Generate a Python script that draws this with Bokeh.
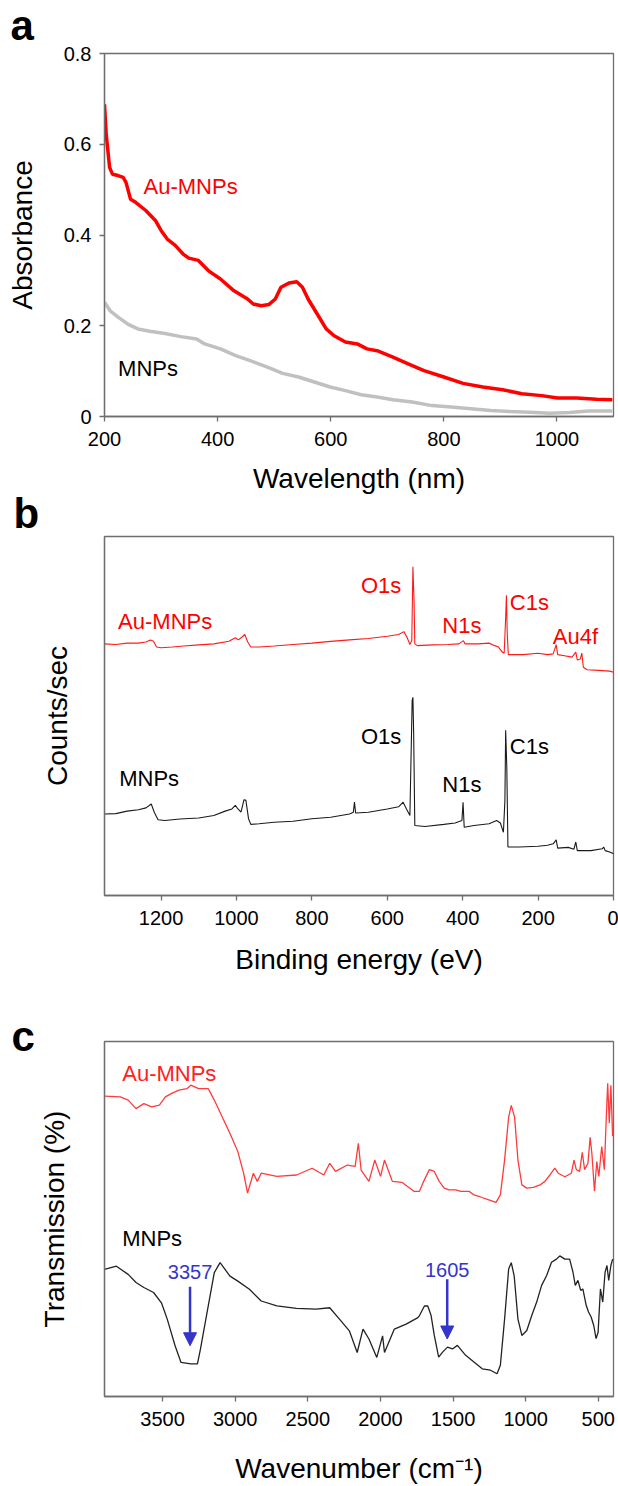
from bokeh.plotting import figure
from bokeh.layouts import column
from bokeh.models import Range1d, Arrow, NormalHead, FixedTicker
from bokeh.core.properties import value
from bokeh.embed import file_html
from bokeh.resources import INLINE

FONT = "Liberation Sans"

# ---------------- Panel a : UV-vis ----------------
a_wl_au = [200, 203, 209, 214, 224, 233, 238, 246, 255, 273, 290, 300, 311, 325, 339, 349, 366, 384,
           405, 429, 453, 463, 477, 491, 502, 512, 526, 540, 550, 560, 578, 592, 606, 626, 647, 664,
           682, 710, 737, 765, 800, 834, 869, 904, 938, 973, 1001, 1035, 1070, 1098]
a_abs_au = [0.688, 0.622, 0.549, 0.534, 0.531, 0.527, 0.516, 0.479, 0.472, 0.454, 0.432, 0.410, 0.391,
            0.377, 0.358, 0.349, 0.344, 0.321, 0.303, 0.277, 0.259, 0.248, 0.244, 0.247, 0.259, 0.285,
            0.294, 0.297, 0.285, 0.259, 0.222, 0.193, 0.178, 0.164, 0.160, 0.149, 0.145, 0.131, 0.116,
            0.101, 0.087, 0.073, 0.065, 0.059, 0.050, 0.046, 0.041, 0.041, 0.038, 0.037]
a_wl_m = [200, 210, 224, 242, 259, 280, 307, 335, 363, 377, 405, 432, 460, 488, 515, 543, 571, 599,
          626, 654, 682, 710, 744, 779, 813, 848, 883, 918, 952, 987, 1022, 1056, 1098]
a_abs_m = [0.252, 0.233, 0.219, 0.203, 0.193, 0.188, 0.183, 0.176, 0.171, 0.160, 0.149, 0.134, 0.122,
           0.109, 0.095, 0.087, 0.076, 0.065, 0.057, 0.048, 0.043, 0.037, 0.032, 0.024, 0.021, 0.017,
           0.013, 0.011, 0.0095, 0.007, 0.009, 0.012, 0.012]
a_xticks = [200, 400, 600, 800, 1000]
a_yticks = [0, 0.2, 0.4, 0.6, 0.8]
a_ylabels = ["0", "0.2", "0.4", "0.6", "0.8"]

# ---------------- Panel b : XPS ----------------
b_ev_au = [1350, 1320, 1290, 1260, 1240, 1228, 1220, 1212, 1200, 1170, 1140, 1100, 1060, 1020, 1003,
           995, 985, 978, 970, 962, 940, 900, 850, 800, 750, 700, 650, 600, 570, 556, 548, 540, 535,
           532, 529, 527, 520, 480, 440, 410, 398, 394, 360, 330, 315, 305, 295, 290, 286, 284, 282,
           279, 270, 240, 200, 175, 160, 152, 148, 130, 110, 100, 96, 88, 84, 80, 70, 40, 10, 0]
b_cnt_au = [70.1, 69.9, 70.3, 70.3, 70.6, 71.2, 70.8, 69.2, 69.0, 69.2, 69.5, 69.8, 70.1, 70.8, 71.8,
            71.2, 72.0, 72.7, 70.6, 69.2, 69.2, 69.5, 69.9, 70.3, 70.8, 71.2, 71.6, 72.2, 72.7, 73.5,
            72.0, 69.9, 71.0, 91.6, 82.2, 70.1, 69.6, 69.8, 69.9, 70.1, 71.0, 70.1, 70.1, 70.3, 69.6,
            69.2, 67.8, 67.5, 77.5, 83.6, 73.5, 67.1, 67.1, 67.1, 67.5, 67.1, 67.3, 69.9, 67.1, 66.8,
            66.4, 67.8, 65.6, 65.9, 67.5, 63.6, 62.9, 62.7, 62.5, 62.2]
b_ev_m = [1350, 1320, 1290, 1260, 1240, 1226, 1218, 1208, 1190, 1150, 1100, 1060, 1030, 1012, 1003,
          996, 988, 980, 975, 968, 962, 940, 900, 850, 800, 750, 700, 690, 687, 684, 650, 600, 570,
          558, 548, 540, 534, 532, 530, 527, 500, 450, 420, 402, 399, 396, 370, 330, 310, 300, 292,
          288, 286, 283, 280, 250, 200, 175, 160, 152, 148, 120, 105, 100, 96, 60, 30, 26, 22, 10, 0]
b_cnt_m = [22.7, 22.8, 23.5, 23.9, 24.4, 25.5, 23.2, 21.1, 20.9, 21.3, 21.6, 22.3, 23.5, 24.1, 25.1,
           24.1, 23.2, 26.7, 26.5, 21.4, 19.8, 20.0, 20.4, 20.7, 21.4, 21.8, 22.7, 23.2, 26.0, 23.0,
           23.2, 24.1, 24.7, 26.0, 23.9, 22.3, 54.3, 55.2, 45.0, 19.5, 19.2, 19.8, 20.2, 20.9, 26.0,
           19.0, 19.5, 20.0, 20.9, 20.2, 17.6, 26.5, 46.0, 35.8, 13.5, 13.5, 13.7, 14.0, 14.4, 15.5,
           13.2, 13.4, 12.9, 14.9, 12.5, 12.5, 13.0, 13.5, 12.5, 12.1, 11.6]
b_xticks = [1200, 1000, 800, 600, 400, 200, 0]

# ---------------- Panel c : FTIR ----------------
c_wn_au = [3900, 3791, 3737, 3683, 3629, 3575, 3522, 3481, 3441, 3387, 3333, 3306, 3252, 3185, 3144,
           3090, 3036, 2982, 2942, 2915, 2875, 2848, 2821, 2713, 2578, 2470, 2390, 2349, 2309, 2228,
           2174, 2152, 2133, 2079, 2039, 1999, 1972, 1918, 1850, 1769, 1731, 1708, 1663, 1629, 1595,
           1561, 1527, 1481, 1447, 1390, 1356, 1311, 1254, 1204, 1174, 1145, 1117, 1099, 1076, 1053,
           1026, 992, 947, 901, 867, 833, 799, 776, 730, 685, 667, 651, 628, 610, 594, 571, 556, 544,
           526, 510, 496, 476, 458, 447, 435, 424, 413, 401]
c_tr_au = [84.6, 84.4, 83.5, 81.1, 82.5, 81.6, 82.1, 84.4, 85.3, 86.3, 86.7, 87.7, 86.7, 86.7, 83.5,
           78.8, 74.1, 69.0, 62.9, 57.3, 62.9, 60.6, 62.9, 62.0, 62.4, 64.3, 62.4, 65.7, 63.4, 65.2,
           64.8, 71.3, 63.8, 60.6, 66.6, 62.0, 66.6, 60.6, 60.3, 57.8, 57.8, 60.1, 63.9, 63.4, 60.6,
           58.7, 58.2, 58.2, 57.8, 57.8, 56.8, 56.2, 55.4, 54.7, 56.8, 66.6, 78.7, 82.0, 78.7, 66.6,
           59.6, 58.7, 58.9, 59.6, 60.6, 62.4, 64.3, 62.9, 61.9, 62.9, 66.6, 63.9, 63.4, 68.8, 63.9,
           65.7, 73.0, 68.5, 57.8, 66.2, 62.0, 70.4, 63.9, 76.1, 88.2, 77.0, 87.7, 73.3]
c_wn_m = [3900, 3818, 3737, 3683, 3629, 3562, 3508, 3468, 3414, 3373, 3306, 3260, 3239, 3198, 3144,
          3104, 3036, 2982, 2902, 2821, 2713, 2578, 2443, 2349, 2282, 2214, 2160, 2120, 2079, 2025,
          1985, 1972, 1904, 1823, 1742, 1731, 1697, 1674, 1651, 1629, 1599, 1572, 1538, 1504, 1470,
          1413, 1356, 1299, 1242, 1197, 1174, 1145, 1117, 1099, 1079, 1053, 1026, 992, 958, 924, 890,
          856, 822, 788, 765, 730, 697, 674, 658, 640, 621, 606, 583, 567, 549, 531, 515, 501, 485,
          469, 453, 440, 428, 413, 401]
c_tr_m = [35.8, 36.7, 34.4, 32.1, 30.7, 29.3, 26.4, 21.8, 14.3, 9.6, 9.2, 9.2, 13.4, 22.7, 34.9,
          37.7, 33.9, 32.5, 30.2, 26.9, 25.5, 24.8, 24.6, 25.0, 21.8, 18.5, 12.4, 19.0, 16.2, 11.0,
          17.1, 12.4, 19.0, 20.4, 22.2, 22.8, 25.5, 25.5, 22.8, 17.2, 11.1, 12.5, 13.9, 13.4, 14.4,
          11.6, 9.7, 7.8, 7.4, 6.4, 8.8, 21.8, 35.9, 37.7, 34.0, 21.8, 17.2, 18.6, 22.8, 26.6, 31.3,
          34.0, 37.8, 38.7, 39.6, 38.7, 38.7, 35.0, 31.3, 32.7, 29.9, 30.3, 25.7, 23.8, 22.4, 20.0,
          16.3, 18.1, 30.3, 26.6, 35.0, 36.9, 32.7, 36.9, 38.7]
c_xticks = [3500, 3000, 2500, 2000, 1500, 1000, 500]
c_marks = ["3357", "1605"]
c_mark_x = [3311, 1540]

AXC = "#6e6e6e"


def base_fig(h, xr, yr, left, right, top, bottom, margin):
    p = figure(width=618, height=h, x_range=xr, y_range=yr, output_backend="svg",
               toolbar_location=None, min_border_left=left, min_border_right=right,
               min_border_top=top, min_border_bottom=bottom, margin=margin)
    p.grid.visible = False
    p.outline_line_color = AXC
    p.outline_line_width = 1.3
    p.background_fill_color = "white"
    p.border_fill_alpha = 0
    for ax in (p.xaxis[0], p.yaxis[0]):
        ax.axis_line_color = AXC
        ax.axis_line_width = 1.3
        ax.major_tick_line_color = AXC
        ax.major_tick_line_width = 1.3
        ax.major_tick_in = 0
        ax.major_tick_out = 5
        ax.minor_tick_line_color = None
        ax.major_label_text_font = FONT
        ax.major_label_text_font_size = "20px"
        ax.major_label_text_color = "black"
        ax.axis_label_text_font = FONT
        ax.axis_label_text_font_style = "normal"
        ax.axis_label_text_color = "black"
        ax.axis_label_text_font_size = "28px"
    p.xaxis.major_label_standoff = 10
    p.yaxis.major_label_standoff = 8
    return p


def panel_letter(p, s, offset, standoff):
    p.title.text = s
    p.title.text_font = FONT
    p.title.text_font_size = "42px"
    p.title.text_font_style = "bold"
    p.title.text_color = "black"
    p.title.align = "left"
    p.title.offset = offset
    p.title.standoff = standoff


def txt(p, x, y, s, color, size="22px", align="left"):
    p.text(x=[x], y=[y], text=[s], text_color=color, text_font=value(FONT),
           text_font_size=size, text_align=align, text_baseline="alphabetic")


# ---- a ----
pa = base_fig(505, Range1d(200, 1100), Range1d(0, 0.8), 104, 3, 58, 84, (-5, 0, 0, 0))
pa.xaxis.ticker = FixedTicker(ticks=a_xticks)
pa.yaxis.ticker = FixedTicker(ticks=a_yticks)
pa.yaxis.major_label_overrides = {t: s for t, s in zip(a_yticks, a_ylabels)}
pa.xaxis.axis_label = "Wavelength (nm)"
pa.yaxis.axis_label = "Absorbance"
pa.xaxis.axis_label_standoff = 14
pa.yaxis.axis_label_standoff = 23
pa.line(a_wl_m, a_abs_m, line_color="#c0c0c0", line_width=3.5)
pa.line(a_wl_au, a_abs_au, line_color="#ff0000", line_width=3.5)
txt(pa, 269, 0.507, "Au-MNPs", "#ff0000")
txt(pa, 224, 0.106, "MNPs", "black")
panel_letter(pa, "a", -94, 9)

# ---- b ----
pb = base_fig(508, Range1d(1350, 0), Range1d(0, 100), 101, 5, 49, 100, (-13, 0, 0, 0))
pb.xaxis.ticker = FixedTicker(ticks=b_xticks)
pb.yaxis.ticker = FixedTicker(ticks=[])
pb.yaxis.major_tick_out = 0
pb.yaxis.major_label_standoff = 0
pb.xaxis.axis_label = "Binding energy (eV)"
pb.yaxis.axis_label = "Counts/sec"
pb.xaxis.axis_label_standoff = 16
pb.yaxis.axis_label_standoff = 32
pb.line(b_ev_m, b_cnt_m, line_color="#1a1a1a", line_width=1.1)
pb.line(b_ev_au, b_cnt_au, line_color="#ff1a1a", line_width=1.1)
txt(pb, 1314, 76.4, "Au-MNPs", "#ff0000")
txt(pb, 670, 86.4, "O1s", "#ff0000")
txt(pb, 454, 75.2, "N1s", "#ff0000")
txt(pb, 275, 81.7, "C1s", "#ff0000")
txt(pb, 161, 72.1, "Au4f", "#ff0000")
txt(pb, 1311, 32.7, "MNPs", "black")
txt(pb, 670, 44.3, "O1s", "black")
txt(pb, 454, 30.9, "N1s", "black")
txt(pb, 275, 41.5, "C1s", "black")
panel_letter(pb, "b", -91, 0)

# ---- c ----
pc = base_fig(491, Range1d(3900, 395), Range1d(0, 100), 103, 2, 46, 88, (0, 0, 0, 0))
pc.xaxis.ticker = FixedTicker(ticks=c_xticks)
pc.yaxis.ticker = FixedTicker(ticks=[])
pc.yaxis.major_tick_out = 0
pc.yaxis.major_label_standoff = 0
pc.xaxis.axis_label = "Wavenumber (cm\u207b\u00b9)"
pc.yaxis.axis_label = "Transmission (%)"
pc.xaxis.axis_label_standoff = 24
pc.yaxis.axis_label_standoff = 35
pc.line(c_wn_m, c_tr_m, line_color="#222222", line_width=1.3)
pc.line(c_wn_au, c_tr_au, line_color="#ff3b3b", line_width=1.3)
txt(pc, 3778, 90.9, "Au-MNPs", "#ff2020")
txt(pc, 3778, 44.4, "MNPs", "black")
BLUE = "#3535cc"
txt(pc, c_mark_x[0], 35.2, c_marks[0], BLUE, size="20px", align="center")
txt(pc, c_mark_x[1], 35.5, c_marks[1], BLUE, size="20px", align="center")
pc.add_layout(Arrow(x_start=c_mark_x[0], y_start=30.9, x_end=c_mark_x[0], y_end=14.3,
                    line_color=BLUE, line_width=2.5,
                    end=NormalHead(size=13, fill_color=BLUE, line_color=BLUE)))
pc.add_layout(Arrow(x_start=c_mark_x[1], y_start=33.0, x_end=c_mark_x[1], y_end=16.2,
                    line_color=BLUE, line_width=2.5,
                    end=NormalHead(size=13, fill_color=BLUE, line_color=BLUE)))
panel_letter(pc, "c", -93, -36)

layout = column(pa, pb, pc, spacing=0)
open("out.html", "w").write(file_html(layout, INLINE))
